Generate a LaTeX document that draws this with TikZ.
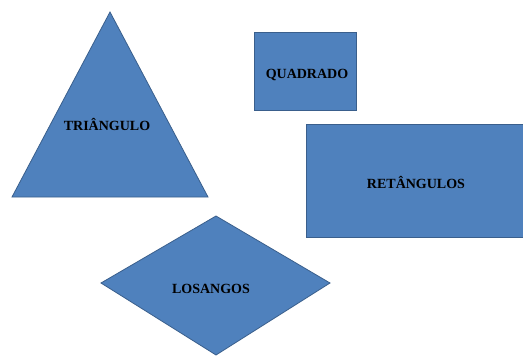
\documentclass[tikz,border=0pt]{standalone}
\usepackage{fontspec}
\setmainfont{Liberation Serif}
\begin{document}
\begin{tikzpicture}[x=1pt,y=-1pt,
  shapefill/.style={fill=shapeblue,draw=shapeedge,line width=0.8pt,line join=miter},
  lbl/.style={font=\fontsize{14}{16}\selectfont\bfseries,text=black,inner sep=0pt}]
\definecolor{shapeblue}{HTML}{4F81BD}
\definecolor{shapeedge}{HTML}{3A5F8C}
\useasboundingbox (0,0) rectangle (523,356);
% triangle
\draw[shapefill] (110,12) -- (208,197) -- (12,197) -- cycle;
\node[lbl] (tri) at (107,124) {TRIÂNGULO};
% square
\draw[shapefill] (254,32) rectangle (356,110);
\node[lbl] (quad) at (307,75) {QUADRADO};
% rectangle
\draw[shapefill] (306,124) rectangle (524,237);
\node[lbl] (ret) at (416,182) {RETÂNGULOS};
% diamond
\draw[shapefill] (216,216) -- (330,283) -- (216,355) -- (101,283) -- cycle;
\node[lbl] (los) at (211,289) {LOSANGOS};
\end{tikzpicture}
\end{document}
